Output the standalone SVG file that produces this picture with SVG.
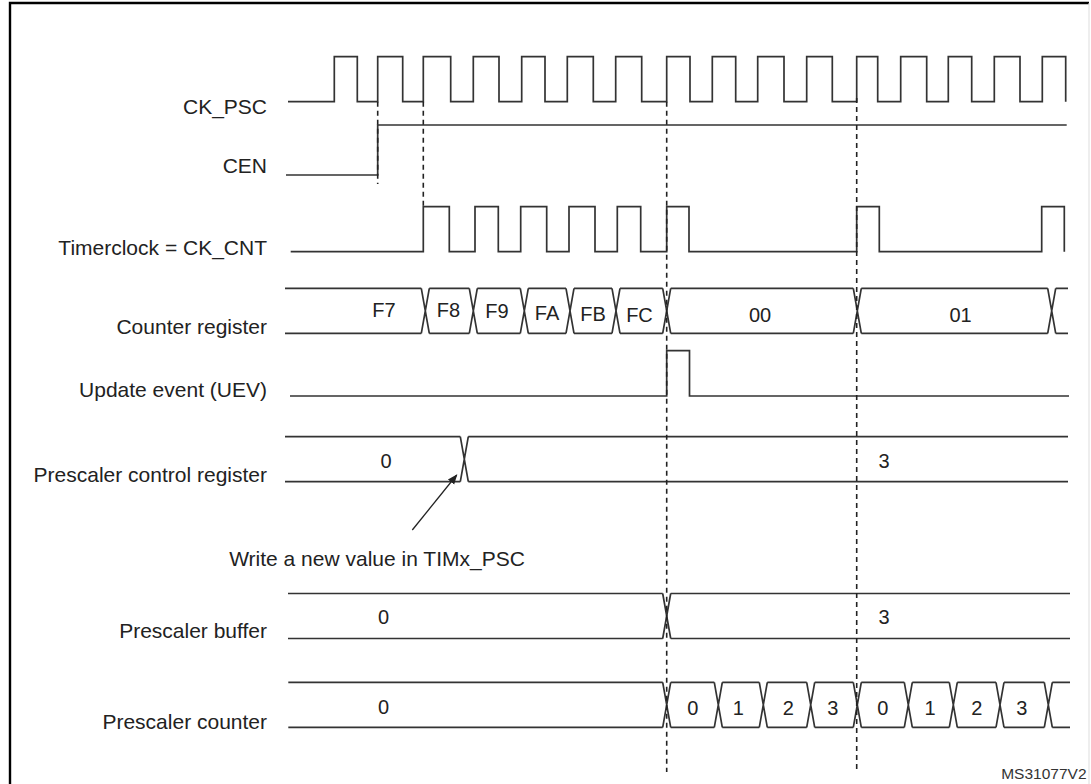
<svg xmlns="http://www.w3.org/2000/svg" width="1091" height="784" viewBox="0 0 1091 784">
<style>
.sig{fill:none;stroke:#333;stroke-width:1.7;stroke-linejoin:miter}
.dash{fill:none;stroke:#222;stroke-width:1.6;stroke-dasharray:5 4}
.lbl{font-family:"Liberation Sans",Arial,sans-serif;font-size:21px;fill:#222;text-anchor:end}
.val{font-family:"Liberation Sans",Arial,sans-serif;font-size:20px;fill:#222;text-anchor:middle}
.note{font-family:"Liberation Sans",Arial,sans-serif;font-size:21px;fill:#222;text-anchor:middle}
.ref{font-family:"Liberation Sans",Arial,sans-serif;font-size:15.5px;fill:#333;text-anchor:end}
</style>
<defs>
<marker id="ah" viewBox="0 0 10 10" refX="9" refY="5" markerWidth="10" markerHeight="10" markerUnits="userSpaceOnUse" orient="auto">
<path d="M0,1 L10,5 L0,9 Z" fill="#222"/>
</marker>
</defs>
<rect width="1091" height="784" fill="#fff"/>
<g id="frame">
<path d="M10,800 V3 H1089" fill="none" stroke="#000" stroke-width="2.4"/>
<path d="M1089,3 V784" fill="none" stroke="#ddd" stroke-width="1"/>
</g>
<g id="ck_psc">
<text class="lbl" x="267" y="114">CK_PSC</text>
<path class="sig" d="M288,101.7 H334.3 V56.7 H357.3 V101.7 H377.7 V56.7 H402.7 V101.7 H423.3 V56.7 H450.7 V101.7 H473.3 V56.7 H499 V101.7 H521.7 V56.7 H545 V101.7 H567.3 V56.7 H593.3 V101.7 H615.7 V56.7 H641.7 V101.7 H666.7 V56.7 H690 V101.7 H712.3 V56.7 H735.7 V101.7 H757.7 V56.7 H784 V101.7 H806.7 V56.7 H832.3 V101.7 H856.7 V56.7 H877.7 V101.7 H900.7 V56.7 H926.7 V101.7 H948.3 V56.7 H971.7 V101.7 H994.3 V56.7 H1020 V101.7 H1042.3 V56.7 H1065.7 V101.7"/>
</g>
<g id="cen">
<text class="lbl" x="267" y="173">CEN</text>
<path class="sig" d="M286,175 H377.7 V125 H1066.7"/>
</g>
<g id="timerclock">
<text class="lbl" x="267" y="255">Timerclock = CK_CNT</text>
<path class="sig" d="M290.7,251.7 H423.3 V206.7 H449.3 V251.7 H475 V206.7 H498.3 V251.7 H520.7 V206.7 H546.7 V251.7 H569 V206.7 H595 V251.7 H617.3 V206.7 H640.7 V251.7 H666.7 V206.7 H689 V251.7 H856.7 V206.7 H879.3 V251.7 H1041.7 V206.7 H1064.3 V251.7"/>
</g>
<g id="counter_register">
<text class="lbl" x="267" y="334">Counter register</text>
<path class="sig" d="M285,288.3H421.3M429.3,288.3H469.3M477.3,288.3H520.3M528.3,288.3H566M574,288.3H612M620,288.3H662.7M670.7,288.3H853.3M861.3,288.3H1047.7M1055.7,288.3H1068
M285,333.3H421.3M429.3,333.3H469.3M477.3,333.3H520.3M528.3,333.3H566M574,333.3H612M620,333.3H662.7M670.7,333.3H853.3M861.3,333.3H1047.7M1055.7,333.3H1068
M421.3,288.3L429.3,333.3M421.3,333.3L429.3,288.3
M469.3,288.3L477.3,333.3M469.3,333.3L477.3,288.3
M520.3,288.3L528.3,333.3M520.3,333.3L528.3,288.3
M566,288.3L574,333.3M566,333.3L574,288.3
M612,288.3L620,333.3M612,333.3L620,288.3
M662.7,288.3L670.7,333.3M662.7,333.3L670.7,288.3
M853.3,288.3L861.3,333.3M853.3,333.3L861.3,288.3
M1047.7,288.3L1055.7,333.3M1047.7,333.3L1055.7,288.3"/>
<text class="val" x="384" y="317">F7</text>
<text class="val" x="448.5" y="317">F8</text>
<text class="val" x="497" y="318">F9</text>
<text class="val" x="547" y="319.5">FA</text>
<text class="val" x="593" y="320.5">FB</text>
<text class="val" x="639.5" y="321.5">FC</text>
<text class="val" x="760" y="321.5">00</text>
<text class="val" x="960.5" y="321.5">01</text>
</g>
<g id="update_event">
<text class="lbl" x="267" y="397">Update event (UEV)</text>
<path class="sig" d="M290,396 H666.7 V350.7 H689.5 V396 H1069"/>
</g>
<g id="prescaler_control">
<text class="lbl" x="267" y="482">Prescaler control register</text>
<path class="sig" d="M285,436.7H460.3M468.3,436.7H1068M285,481.7H460.3M468.3,481.7H1068M460.3,436.7L468.3,481.7M460.3,481.7L468.3,436.7"/>
<text class="val" x="386" y="468">0</text>
<text class="val" x="884" y="468">3</text>
</g>
<g id="prescaler_buffer">
<text class="lbl" x="267" y="638">Prescaler buffer</text>
<path class="sig" d="M288,593.5H662.7M670.7,593.5H1070M288,638.5H662.7M670.7,638.5H1070M662.7,593.5L670.7,638.5M662.7,638.5L670.7,593.5"/>
<text class="val" x="383.5" y="624">0</text>
<text class="val" x="884" y="624">3</text>
</g>
<g id="prescaler_counter">
<text class="lbl" x="267" y="728.5">Prescaler counter</text>
<path class="sig" d="M288.3,682.3H662.7M670.7,682.3H714.3M722.3,682.3H759.3M767.3,682.3H806.7M814.7,682.3H853.3M861.3,682.3H904.3M912.3,682.3H949.3M957.3,682.3H996M1004,682.3H1044.3M1052.3,682.3H1070
M288.3,727.3H662.7M670.7,727.3H714.3M722.3,727.3H759.3M767.3,727.3H806.7M814.7,727.3H853.3M861.3,727.3H904.3M912.3,727.3H949.3M957.3,727.3H996M1004,727.3H1044.3M1052.3,727.3H1070
M662.7,682.3L670.7,727.3M662.7,727.3L670.7,682.3
M714.3,682.3L722.3,727.3M714.3,727.3L722.3,682.3
M759.3,682.3L767.3,727.3M759.3,727.3L767.3,682.3
M806.7,682.3L814.7,727.3M806.7,727.3L814.7,682.3
M853.3,682.3L861.3,727.3M853.3,727.3L861.3,682.3
M904.3,682.3L912.3,727.3M904.3,727.3L912.3,682.3
M949.3,682.3L957.3,727.3M949.3,727.3L957.3,682.3
M996,682.3L1004,727.3M996,727.3L1004,682.3
M1044.3,682.3L1052.3,727.3M1044.3,727.3L1052.3,682.3"/>
<text class="val" x="383.5" y="713.5">0</text>
<text class="val" x="692.7" y="715">0</text>
<text class="val" x="738.3" y="715">1</text>
<text class="val" x="788.3" y="715">2</text>
<text class="val" x="832.7" y="715">3</text>
<text class="val" x="882.7" y="715">0</text>
<text class="val" x="930" y="715">1</text>
<text class="val" x="976.7" y="715">2</text>
<text class="val" x="1021.7" y="715">3</text>
</g>
<g id="connectors">
<line class="dash" x1="377.7" y1="101.7" x2="377.7" y2="184"/>
<line class="dash" x1="423.3" y1="101.7" x2="423.3" y2="207"/>
<line class="dash" x1="666.7" y1="101.7" x2="666.7" y2="772"/>
<line class="dash" x1="856.7" y1="98" x2="856.7" y2="772"/>
<line x1="412.3" y1="530" x2="456.7" y2="475" stroke="#222" stroke-width="1.3" marker-end="url(#ah)"/>
</g>
<g id="note">
<text class="note" x="377" y="566">Write a new value in TIMx_PSC</text>
</g>
<text class="ref" x="1086.5" y="778.5">MS31077V2</text>
</svg>
